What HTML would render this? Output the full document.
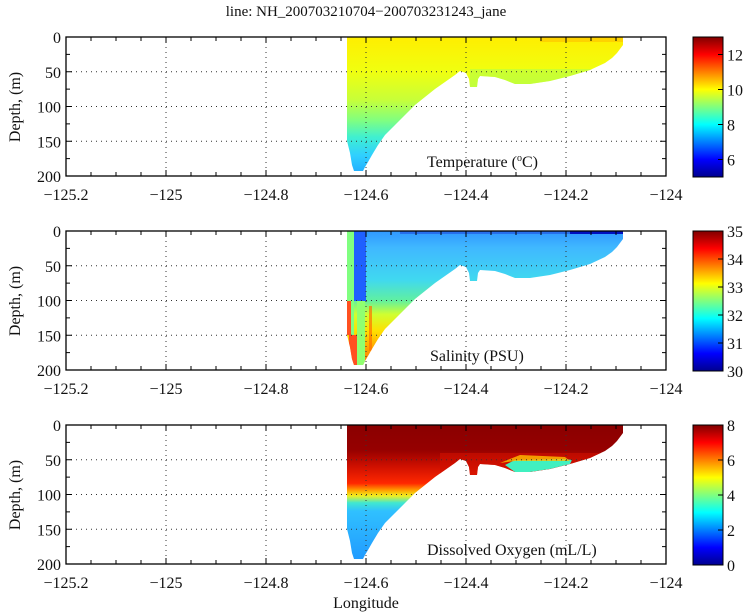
<!DOCTYPE html>
<html><head><meta charset="utf-8"><style>
html,body{margin:0;padding:0;background:#fff;width:750px;height:615px;overflow:hidden}
svg text{font-family:"Liberation Serif",serif;fill:#111}
</style></head><body>
<svg id="s" width="750" height="615" xmlns="http://www.w3.org/2000/svg">
<defs>
<linearGradient id="jet" x1="0" y1="1" x2="0" y2="0">
<stop offset="0" stop-color="#00008f"/><stop offset="0.125" stop-color="#0000ff"/>
<stop offset="0.375" stop-color="#00ffff"/><stop offset="0.625" stop-color="#ffff00"/>
<stop offset="0.875" stop-color="#ff0000"/><stop offset="1" stop-color="#800000"/>
</linearGradient>
<linearGradient id="gT" x1="0" y1="0" x2="0" y2="1">
<stop offset="0" stop-color="#ffee00"/><stop offset="0.25" stop-color="#f0ff10"/>
<stop offset="0.45" stop-color="#c8ff38"/><stop offset="0.6" stop-color="#80ff80"/>
<stop offset="0.72" stop-color="#40f0d0"/><stop offset="0.85" stop-color="#30d0ff"/>
<stop offset="1" stop-color="#20a8ff"/>
</linearGradient>
<linearGradient id="gS" x1="0" y1="0" x2="0" y2="1">
<stop offset="0" stop-color="#3098ff"/><stop offset="0.12" stop-color="#40b8ff"/>
<stop offset="0.35" stop-color="#40d8f0"/><stop offset="0.5" stop-color="#60f0a0"/>
<stop offset="0.6" stop-color="#d0ff30"/><stop offset="0.72" stop-color="#ffe000"/>
<stop offset="0.85" stop-color="#ffa000"/><stop offset="1" stop-color="#ff7000"/>
</linearGradient>
<linearGradient id="gO" x1="0" y1="0" x2="0" y2="1">
<stop offset="0" stop-color="#8a0000"/><stop offset="0.18" stop-color="#960000"/>
<stop offset="0.3" stop-color="#d01000"/><stop offset="0.42" stop-color="#ff2800"/>
<stop offset="0.47" stop-color="#ffa000"/><stop offset="0.51" stop-color="#f0f020"/>
<stop offset="0.56" stop-color="#40e8d0"/><stop offset="0.62" stop-color="#30c0ff"/>
<stop offset="1" stop-color="#2098ff"/>
</linearGradient>
</defs>
</svg>
<script>
const s=document.getElementById('s');let h='';
const X=v=>66+(v+125.2)*500;
const poly=[[347,0],[623,0],[623,8],[620,12],[617,16],[612,21],[605,26],[590,33],[570,39],[550,44],[530,47],[515,47],[505,43],[495,40],[480,39],[478,42],[477,50],[470,50],[469,42],[466,36],[460,34],[455,38],[445,45],[435,52],[425,60],[415,68],[405,78],[395,88],[385,98],[378,108],[372,118],[368,125],[365,130],[363,134],[354,134],[352,128],[350,116],[347,104]];
const panels=[
{top:37,g:'gT',lab:'Temperature (<tspan dy="-6" font-size="10">o</tspan><tspan dy="6">C)</tspan>',lx:427,cb:[6,8,10,12],cmin:5,cmax:13,
 extra:'<rect x="540" y="0" width="83" height="5" fill="#ffc000" opacity="0.6"/><rect x="470" y="32" width="140" height="20" fill="#a8ff50" opacity="0.5"/>'},
{top:231,g:'gS',lab:'Salinity (PSU)',lx:430,cb:[30,31,32,33,34,35],cmin:30,cmax:35,
 extra:'<rect x="347" y="0" width="7" height="104" fill="#80ff80"/><rect x="347" y="70" width="4" height="34" fill="#ff5020"/><rect x="349" y="104" width="8" height="30" fill="#ff5020"/><rect x="354" y="0" width="12" height="70" fill="#1f60ff"/><rect x="357" y="70" width="8" height="64" fill="#90ff70"/><rect x="369" y="75" width="3" height="45" fill="#ff7000" opacity="0.7"/><rect x="400" y="0" width="223" height="3" fill="#2050e0" opacity="0.6"/><rect x="570" y="0" width="53" height="3" fill="#0010c0"/>'},
{top:425,g:'gO',lab:'Dissolved Oxygen (mL/L)',lx:427,cb:[0,2,4,6,8],cmin:0,cmax:8,
 extra:'<rect x="440" y="28" width="180" height="28" fill="#d01000" opacity="0.6"/><path d="M505 40 L515 35 L560 34 L565 34 L572 35 L570 39 L550 44 L530 47 L515 47Z" fill="#40f0c0"/><path d="M500 38 L520 30 L565 32 L570 36 L515 36Z" fill="#ffc000" opacity="0.8"/>'}
];
const pts=poly.map(p=>p[0]+','+p[1]).join(' ');
panels.forEach((p,i)=>{
 const t=p.top,b=t+139;
 h+=`<clipPath id="c${i}"><polygon points="${pts}"/></clipPath>`;
 h+=`<g transform="translate(0,${t})"><g clip-path="url(#c${i})"><rect x="347" y="0" width="280" height="139" fill="url(#${p.g})"/>${p.extra}</g></g>`;
 [-125,-124.8,-124.6,-124.4,-124.2].forEach(v=>h+=`<line x1="${X(v)}" y1="${t}" x2="${X(v)}" y2="${b}" stroke="#333" stroke-dasharray="1,4" stroke-width="1"/>`);
 [50,100,150].forEach(d=>{const y=t+d*0.695;h+=`<line x1="66" y1="${y}" x2="666" y2="${y}" stroke="#333" stroke-dasharray="1,4"/>`;});
 h+=`<rect x="66" y="${t}" width="600" height="139" fill="none" stroke="#000" stroke-width="1.3"/>`;
 for(let k=0;k<=24;k++){const x=66+k*25,L=k%4==0?6:4;h+=`<line x1="${x}" y1="${t}" x2="${x}" y2="${t+L}" stroke="#000"/><line x1="${x}" y1="${b}" x2="${x}" y2="${b-L}" stroke="#000"/>`;}
 for(let k=0;k<=8;k++){const y=t+k*25*0.695,L=k%2==0?6:4;h+=`<line x1="66" y1="${y}" x2="${66+L}" y2="${y}" stroke="#000"/><line x1="666" y1="${y}" x2="${666-L}" y2="${y}" stroke="#000"/>`;}
 ['−125.2','−125','−124.8','−124.6','−124.4','−124.2','−124'].forEach((l,k)=>h+=`<text x="${66+k*100}" y="${b+24}" font-size="16" text-anchor="middle">${l}</text>`);
 [0,50,100,150,200].forEach(d=>h+=`<text x="61" y="${t+d*0.695+6}" font-size="16" text-anchor="end">${d}</text>`);
 h+=`<text transform="translate(20,${t+70}) rotate(-90)" font-size="16" text-anchor="middle">Depth, (m)</text>`;
 h+=`<text x="${p.lx}" y="${b-9}" font-size="16">${p.lab}</text>`;
 h+=`<rect x="693" y="${t}" width="30" height="140" fill="url(#jet)" stroke="#000"/>`;
 p.cb.forEach(v=>{const y=t+140-(v-p.cmin)/(p.cmax-p.cmin)*140;h+=`<line x1="718" y1="${y}" x2="723" y2="${y}" stroke="#000"/><text x="727" y="${y+6}" font-size="16">${v}</text>`;});
});
h+=`<text x="366" y="16" font-size="15" text-anchor="middle">line: NH_200703210704−200703231243_jane</text>`;
h+=`<text x="366" y="608" font-size="16" text-anchor="middle">Longitude</text>`;
s.insertAdjacentHTML('beforeend',h);
</script>
</body></html>
